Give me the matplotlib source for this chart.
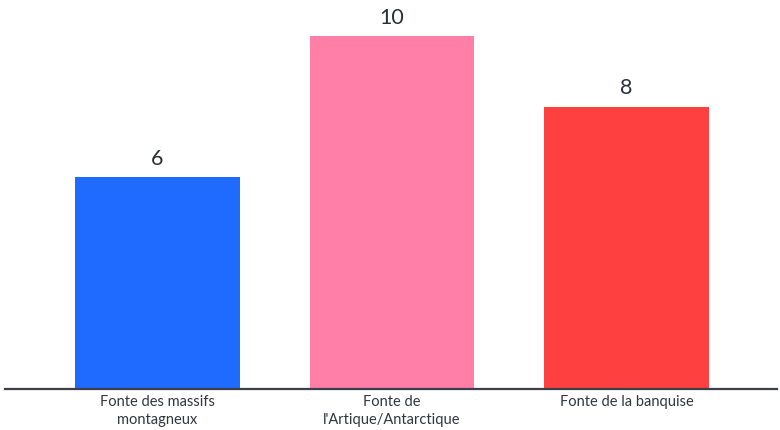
import matplotlib
matplotlib.use("Agg")
import matplotlib.pyplot as plt

categories = ["Fonte des massifs\nmontagneux", "Fonte de\nl'Artique/Antarctique", "Fonte de la banquise"]
values = [6, 10, 8]
colors = ["#1f6bff", "#ff7fa8", "#ff4040"]

plt.rcParams["font.family"] = ["Lato", "DejaVu Sans"]

fig = plt.figure(figsize=(7.8, 4.3), dpi=100)
ax = fig.add_axes([5 / 780, 41 / 430, 772 / 780, 389 / 430])

x = range(len(values))
bars = ax.bar(x, values, width=0.7, color=colors, zorder=2)

for b, v in zip(bars, values):
    ax.annotate(str(v), (b.get_x() + b.get_width() / 2, v),
                xytext=(0, 6), textcoords="offset points",
                ha="center", va="bottom", fontsize=15.5, color="#2b2f38")

ax.set_xlim(-0.65, 2.642)
ax.set_ylim(0, 11.02)
ax.set_xticks(list(x))
ax.set_xticklabels(categories, fontsize=10.5, color="#33363e", linespacing=1.4)
ax.tick_params(axis="x", length=0, pad=4)
ax.set_yticks([])

for s in ["top", "right", "left"]:
    ax.spines[s].set_visible(False)
ax.spines["bottom"].set_color("#3a3f4a")
ax.spines["bottom"].set_linewidth(1.6)
ax.spines["bottom"].set_zorder(3)

fig.savefig("out.png", dpi=100)
